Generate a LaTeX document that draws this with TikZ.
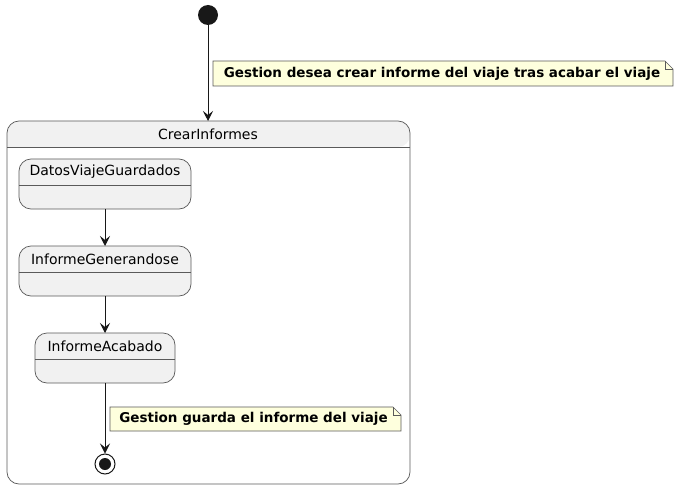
\documentclass[tikz,border=0pt]{standalone}
\usepackage{fontspec}
\setmainfont{DejaVu Sans}
\usetikzlibrary{arrows.meta}
\definecolor{stfill}{HTML}{F1F1F1}
\definecolor{stdraw}{HTML}{5A5A5A}
\definecolor{notefill}{HTML}{FEFFDD}
\definecolor{ink}{HTML}{181818}
\begin{document}
\begin{tikzpicture}[x=1pt,y=-1pt,
  box/.style={draw=stdraw,fill=stfill,line width=0.7pt,rounded corners=12pt},
  lbl/.style={font=\fontsize{14}{16}\selectfont,text=black,inner sep=0pt},
  notetxt/.style={font=\fontsize{13.5}{15}\selectfont\bfseries,text=black,inner sep=0pt},
  conn/.style={draw=ink,line width=0.9pt,-{Stealth[length=10pt,width=10pt,inset=4pt]}},
  notebox/.style={draw=stdraw,fill=notefill,line width=0.6pt}]
\useasboundingbox (0,0) rectangle (679,489);
% initial
\node[circle,fill=ink,minimum size=20pt,inner sep=0pt] (init) at (208,15) {};
% composite
\fill[white,rounded corners=12pt] (7,121) rectangle (410,484);
\fill[stfill,rounded corners=12pt] (7,147) -- (7,121) -- (410,121) -- (410,147) [sharp corners] -- cycle;
\draw[box,fill=none] (7,121) rectangle (410,484);
\draw[draw=stdraw,line width=0.7pt] (7,147) -- (410,147);
\node[lbl] (ci) at (208,134) {CrearInformes};
\coordinate (citop) at (208,121);
% states
\draw[box] (19,159) rectangle (191,209);
\draw[draw=stdraw,line width=0.7pt] (19,185) -- (191,185);
\node[lbl] (dvg) at (105,172) {DatosViajeGuardados};
\coordinate (dvgb) at (105,209);
\draw[box] (19,246) rectangle (191,296);
\draw[draw=stdraw,line width=0.7pt] (19,272) -- (191,272);
\node[lbl] (ig) at (105,259) {InformeGenerandose};
\coordinate (igt) at (105,246);
\coordinate (igb) at (105,296);
\draw[box] (35,333) rectangle (175,383);
\draw[draw=stdraw,line width=0.7pt] (35,359) -- (175,359);
\node[lbl] (ia) at (105,346) {InformeAcabado};
\coordinate (iat) at (105,333);
\coordinate (iab) at (105,383);
% final
\node[circle,draw=ink,fill=white,line width=1pt,minimum size=20pt,inner sep=0pt] (fin) at (105,464) {};
\node[circle,fill=ink,minimum size=12pt,inner sep=0pt] (finin) at (105,464) {};
% connectors
\draw[conn] (init) -- (citop);
\draw[conn] (dvgb) -- (igt);
\draw[conn] (igb) -- (iat);
\draw[conn] (iab) -- (fin);
% note 1
\draw[notebox] (213,61) -- (665,61) -- (673,69) -- (673,86) -- (213,86) -- cycle;
\draw[draw=stdraw,line width=0.6pt] (665,61) -- (665,69) -- (673,69);
\node[notetxt] (n1) at (442,74) {Gestion desea crear informe del viaje tras acabar el viaje};
% note 2
\draw[notebox] (110,407) -- (393,407) -- (401,415) -- (401,431) -- (110,431) -- cycle;
\draw[draw=stdraw,line width=0.6pt] (393,407) -- (393,415) -- (401,415);
\node[notetxt] (n2) at (253.5,419) {Gestion guarda el informe del viaje};
\end{tikzpicture}
\end{document}
